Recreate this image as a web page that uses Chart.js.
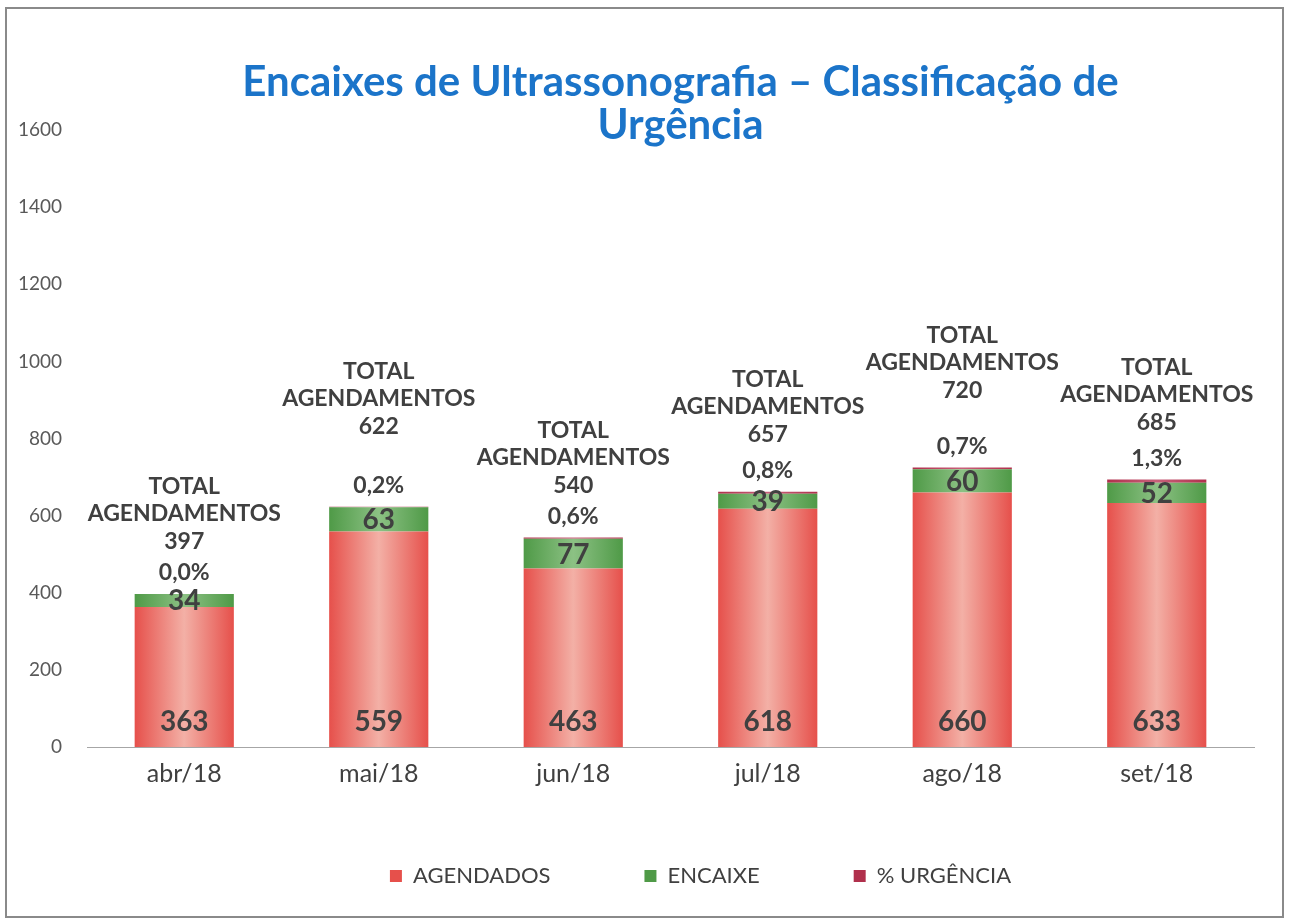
<!DOCTYPE html>
<html>
<head>
<meta charset="utf-8">
<script src="https://cdn.jsdelivr.net/npm/chart.js@4.4.0/dist/chart.umd.min.js"></script>
<style>
  html, body { margin: 0; padding: 0; background: #ffffff; }
  #wrap { position: absolute; left: 0; top: 0; width: 1292px; height: 923px; }
</style>
</head>
<body>
<div id="wrap"><canvas id="c" width="1292" height="923"></canvas></div>
<script>
// ---- data ----
const categories = ['abr/18', 'mai/18', 'jun/18', 'jul/18', 'ago/18', 'set/18'];
const agendados = [363, 559, 463, 618, 660, 633];
const encaixe = [34, 63, 77, 39, 60, 52];
const urgencia = [0, 1, 3, 5, 5, 9];
const urgenciaPct = [0.0, 0.2, 0.6, 0.8, 0.7, 1.3];
const totalAgendamentos = [397, 622, 540, 657, 720, 685];
const yTicks = [0, 200, 400, 600, 800, 1000, 1200, 1400, 1600];
const titleLines = ['Encaixes de Ultrassonografia \u2013 Classificação de', 'Urgência'];
const seriesNames = ['AGENDADOS', 'ENCAIXE', '% URGÊNCIA'];

// ---- style ----
const totalLabelGap = [31, 59, 31, 36, 56, 36]; // px between total number and % label
const BAR_FRAC = 0.51;
const FONT = 'Lato, "Open Sans", sans-serif';
const LABEL_COLOR = '#404040';
const LEGEND_PAD = 94;
const LEGEND_Y = 876;

function barGradient(ctx, edge, mid, solid) {
  const chart = ctx.chart;
  if (ctx.type !== 'data' || !chart.chartArea || !chart.scales.x) return solid;
  const xs = chart.scales.x;
  const cx = xs.getPixelForValue(ctx.dataIndex);
  const half = (xs.width / categories.length) * BAR_FRAC / 2;
  const g = chart.ctx.createLinearGradient(cx - half, 0, cx + half, 0);
  g.addColorStop(0, edge);
  g.addColorStop(0.5, mid);
  g.addColorStop(1, edge);
  return g;
}

const framePlugin = {
  id: 'frame',
  afterLayout(chart) {
    const leg = chart.legend;
    if (leg) {
      leg.top = LEGEND_Y - LEGEND_PAD - 11;
      leg.bottom = leg.top + LEGEND_PAD + 40;
      leg.height = leg.bottom - leg.top;
      const dx = 66;
      leg.left += dx; leg.right += dx;
    }
  },
  beforeDraw(chart) {
    const c = chart.ctx;
    c.save();
    c.fillStyle = '#ffffff';
    c.fillRect(0, 0, chart.width, chart.height);
    c.strokeStyle = '#8a8a8a';
    c.lineWidth = 2;
    c.strokeRect(6, 8, 1277, 909);
    c.restore();
  },
  afterDraw(chart) {
    const c = chart.ctx;
    c.save();
    c.fillStyle = '#1b74c9';
    c.font = 'bold 42px ' + FONT;
    c.textAlign = 'center';
    c.textBaseline = 'middle';
    const tx = (chart.chartArea.left + chart.chartArea.right) / 2 + 10;
    c.fillText(titleLines[0], tx, 82);
    c.fillText(titleLines[1], tx, 125);
    c.restore();
  }
};

const labelPlugin = {
  id: 'barLabels',
  afterDatasetsDraw(chart) {
    const c = chart.ctx;
    const ys = chart.scales.y;
    const xs = chart.scales.x;
    c.save();
    c.textAlign = 'center';
    c.textBaseline = 'middle';
    c.fillStyle = LABEL_COLOR;
    categories.forEach((cat, i) => {
      const cx = xs.getPixelForValue(i);
      // inside labels
      c.font = 'bold 28px ' + FONT;
      c.fillText(String(agendados[i]), cx, ys.getPixelForValue(0) - 25);
      const eMid = ys.getPixelForValue(agendados[i] + encaixe[i] / 2);
      c.fillText(String(encaixe[i]), cx, eMid + 1);
      // above labels
      const top = ys.getPixelForValue(agendados[i] + encaixe[i] + urgencia[i]);
      c.font = 'bold 23px ' + FONT;
      const pctY = top - 21;
      c.fillText(urgenciaPct[i].toFixed(1).replace('.', ',') + '%', cx, pctY);
      const numY = pctY - totalLabelGap[i];
      c.fillText(String(totalAgendamentos[i]), cx, numY);
      c.fillText('AGENDAMENTOS', cx, numY - 28);
      c.fillText('TOTAL', cx, numY - 55);
    });
    c.restore();
  }
};

new Chart(document.getElementById('c'), {
  type: 'bar',
  data: {
    labels: categories,
    datasets: [
      {
        label: seriesNames[0],
        data: agendados,
        backgroundColor: (ctx) => barGradient(ctx, '#e6504b', '#f3b0a6', '#e9625a'),
        categoryPercentage: 1,
        barPercentage: BAR_FRAC,
        stack: 's'
      },
      {
        label: seriesNames[1],
        data: encaixe,
        backgroundColor: (ctx) => barGradient(ctx, '#4f9a47', '#8cc184', '#5fa357'),
        categoryPercentage: 1,
        barPercentage: BAR_FRAC,
        stack: 's'
      },
      {
        label: seriesNames[2],
        data: urgencia,
        backgroundColor: (ctx) => barGradient(ctx, '#b0304c', '#c8607a', '#c04a66'),
        categoryPercentage: 1,
        barPercentage: BAR_FRAC,
        stack: 's'
      }
    ]
  },
  options: {
    responsive: false,
    animation: false,
    devicePixelRatio: 1,
    layout: { padding: { left: 15, right: 38, top: 130, bottom: 90 } },
    plugins: {
      title: { display: false },
      tooltip: { enabled: false },
      legend: {
        position: 'bottom',
        align: 'center',
        maxHeight: 46,
        labels: {
          boxWidth: 12,
          boxHeight: 12,
          padding: LEGEND_PAD,
          color: '#404040',
          font: { family: FONT, size: 22 }
        }
      }
    },
    scales: {
      x: {
        stacked: true,
        grid: { display: false, drawTicks: false },
        border: { display: true, color: '#a6a6a6', width: 1 },
        ticks: { color: '#404040', font: { family: FONT, size: 25 }, padding: 12 },
        afterFit(scale) { scale.height = 40; }
      },
      y: {
        stacked: true,
        min: 0,
        max: 1600,
        afterBuildTicks(scale) { scale.ticks = yTicks.map(v => ({ value: v })); },
        grid: { display: false, drawTicks: false },
        border: { display: false },
        ticks: {
          color: '#595959',
          font: { family: FONT, size: 19 },
          padding: 25,
          callback: (v) => String(v)
        },
        afterFit(scale) { scale.width = 72; }
      }
    }
  },
  plugins: [framePlugin, labelPlugin]
});
</script>
</body>
</html>
